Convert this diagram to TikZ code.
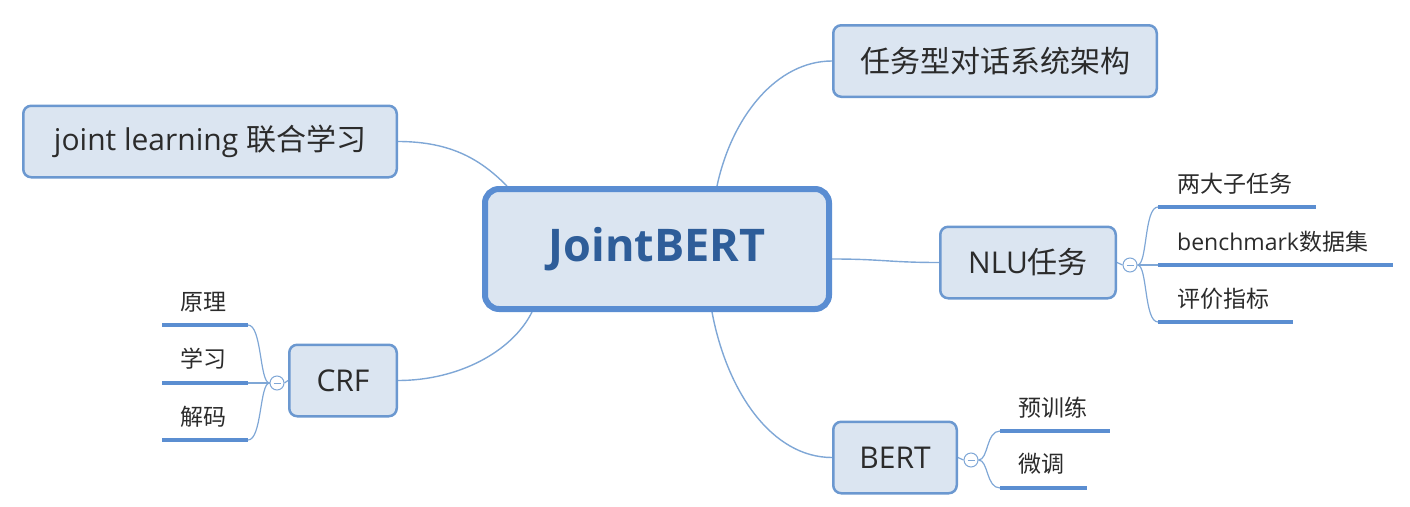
\documentclass[tikz,border=0pt]{standalone}
\usepackage{fontspec}
\setmainfont{Open Sans}
\newfontfamily\cjk{Noto Sans CJK SC}
\usetikzlibrary{calc,backgrounds}
\definecolor{boxfill}{HTML}{DBE5F1}
\definecolor{boxline}{HTML}{6B98D0}
\definecolor{mainline}{HTML}{5A8DD2}
\definecolor{conn}{HTML}{7FA7D6}
\definecolor{uline}{HTML}{5B8ED1}
\definecolor{txt}{HTML}{2B2B2B}
\definecolor{maintxt}{HTML}{2E5D99}
\begin{document}
\begin{tikzpicture}[x=1pt,y=-1pt,
 topic/.style={draw=boxline, line width=2.5pt, fill=boxfill, rounded corners=8pt, inner sep=0pt, text=txt, font=\fontsize{30}{32}\selectfont},
 central/.style={draw=mainline, line width=6pt, fill=boxfill, rounded corners=14pt, inner sep=0pt, text=maintxt, font=\fontsize{45}{48}\selectfont\bfseries, minimum width=344pt, minimum height=120pt},
 link/.style={draw=conn, line width=1.4pt},
 twig/.style={draw=conn, line width=1.2pt},
 leafline/.style={draw=uline, line width=4pt},
 leaf/.style={anchor=west, inner sep=0pt, text=txt, font=\fontsize{23}{25}\selectfont},
 fold/.style={circle, draw=conn, fill=white, line width=1pt, minimum size=14pt, inner sep=0pt},
 minus/.style={draw=conn, line width=1pt}]
\useasboundingbox (0,0) rectangle (1410,506);

% topics
\node[central] (c) at (657,249) {JointBERT};
\node[topic, minimum width=323.5pt, minimum height=71.5pt] (arch) at (995,61) {\cjk 任务型对话系统架构};
\node[topic, minimum width=373.5pt, minimum height=71.5pt] (joint) at (210,141.5) {joint learning \cjk 联合学习};
\node[topic, minimum width=175.5pt, minimum height=71.5pt] (nlu) at (1028,262.5) {NLU{\cjk 任务}};
\node[topic, minimum width=107.5pt, minimum height=71.5pt] (crf) at (343,380.5) {CRF};
\node[topic, minimum width=123.5pt, minimum height=71.5pt] (bert) at (895,457.5) {BERT};

% fold circles
\node[fold] (f1) at (1130,265) {};
\node[fold] (f2) at (277,383) {};
\node[fold] (f3) at (971,460) {};
\draw[minus] ([xshift=-3.5pt]f1.center) -- ([xshift=3.5pt]f1.center);
\draw[minus] ([xshift=-3.5pt]f2.center) -- ([xshift=3.5pt]f2.center);
\draw[minus] ([xshift=-3.5pt]f3.center) -- ([xshift=3.5pt]f3.center);

% leaf line end points
\coordinate (n1s) at (1158,207); \coordinate (n1e) at (1316,207);
\coordinate (n2s) at (1158,265); \coordinate (n2e) at (1393,265);
\coordinate (n3s) at (1158,322); \coordinate (n3e) at (1293,322);
\coordinate (r1s) at (248,325); \coordinate (r1e) at (162,325);
\coordinate (r2s) at (248,383); \coordinate (r2e) at (162,383);
\coordinate (r3s) at (248,440); \coordinate (r3e) at (162,440);
\coordinate (b1s) at (1000,431); \coordinate (b1e) at (1110,431);
\coordinate (b2s) at (1000,488); \coordinate (b2e) at (1087,488);

% leaves
\node[leaf] (t1) at (1177,184) {\cjk 两大子任务};
\node[leaf] (t2) at (1177,242) {benchmark{\cjk 数据集}};
\node[leaf] (t3) at (1177,299) {\cjk 评价指标};
\node[leaf] (l1) at (180,302) {\cjk 原理};
\node[leaf] (l2) at (180,359) {\cjk 学习};
\node[leaf] (l3) at (180,417) {\cjk 解码};
\node[leaf] (p1) at (1018,408) {\cjk 预训练};
\node[leaf] (p2) at (1018,464) {\cjk 微调};

\draw[leafline] (n1s) -- (n1e);
\draw[leafline] (n2s) -- (n2e);
\draw[leafline] (n3s) -- (n3e);
\draw[leafline] (r1s) -- (r1e);
\draw[leafline] (r2s) -- (r2e);
\draw[leafline] (r3s) -- (r3e);
\draw[leafline] (b1s) -- (b1e);
\draw[leafline] (b2s) -- (b2e);

\begin{scope}[on background layer]
% main links
\draw[link] ([xshift=60pt]c.north) .. controls +(15,-70) and +(-55,0) .. (arch.west);
\draw[link] (joint.east) .. controls +(55,0) and +(-25,-25) .. ([xshift=-150pt]c.north);
\draw[link] ([yshift=-10pt]c.east) .. controls +(50,0) and +(-50,0) .. (nlu.west);
\draw[link] ([xshift=-125pt]c.south) .. controls +(-20,40) and +(60,0) .. (crf.east);
\draw[link] ([xshift=55pt]c.south) .. controls +(15,80) and +(-60,0) .. (bert.west);
% twigs
\draw[twig] (nlu.east) -- (f1.west);
\draw[twig] (f1.east) .. controls +(10,0) and +(-14,0) .. (n1s);
\draw[twig] (f1.east) -- (n2s);
\draw[twig] (f1.east) .. controls +(10,0) and +(-14,0) .. (n3s);
\draw[twig] (crf.west) -- (f2.east);
\draw[twig] (f2.west) .. controls +(-10,0) and +(14,0) .. (r1s);
\draw[twig] (f2.west) -- (r2s);
\draw[twig] (f2.west) .. controls +(-10,0) and +(14,0) .. (r3s);
\draw[twig] (bert.east) -- (f3.west);
\draw[twig] (f3.east) .. controls +(10,0) and +(-14,0) .. (b1s);
\draw[twig] (f3.east) .. controls +(10,0) and +(-14,0) .. (b2s);
\end{scope}
\end{tikzpicture}
\end{document}
